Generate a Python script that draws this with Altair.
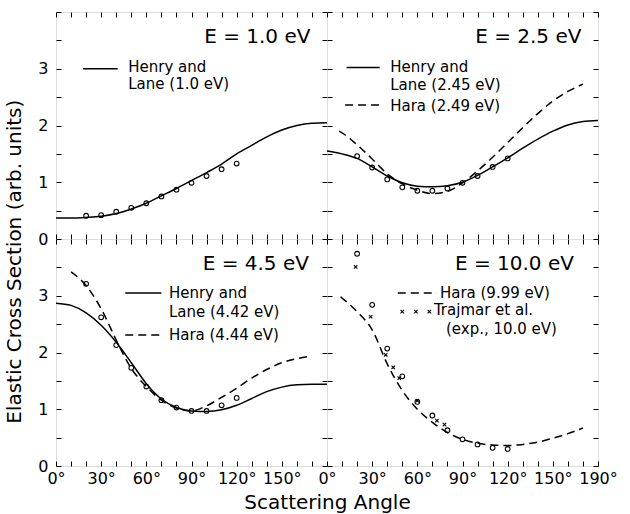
import altair as alt
import pandas as pd

FONT = "DejaVu Sans"

# ---------------- data ----------------
ang_full = [0, 10, 20, 30, 40, 50, 60, 70, 80, 90, 100, 110, 120, 130, 140, 150, 160, 170, 180]
exp_ang = [20, 30, 40, 50, 60, 70, 80, 90, 100, 110, 120]

# E = 1.0 eV
p1_henry = [0.37, 0.37, 0.38, 0.40, 0.45, 0.53, 0.63, 0.76, 0.89, 1.03, 1.17, 1.32, 1.50, 1.65, 1.80, 1.92, 2.00, 2.04, 2.05]
p1_exp = [0.41, 0.42, 0.48, 0.55, 0.63, 0.75, 0.87, 0.99, 1.11, 1.23, 1.33]

# E = 2.5 eV
p2_henry = [1.55, 1.50, 1.42, 1.27, 1.11, 0.99, 0.93, 0.92, 0.94, 1.00, 1.12, 1.27, 1.43, 1.60, 1.76, 1.90, 2.01, 2.07, 2.09]
p2_hara_ang = [8, 10, 20, 30, 40, 50, 60, 70, 80, 90, 100, 110, 120, 130, 140, 150, 160, 170]
p2_hara = [1.90, 1.87, 1.66, 1.41, 1.15, 0.97, 0.86, 0.80, 0.84, 0.99, 1.20, 1.44, 1.70, 1.96, 2.21, 2.43, 2.60, 2.73]
p2_exp = [1.46, 1.26, 1.05, 0.91, 0.85, 0.85, 0.89, 0.99, 1.11, 1.27, 1.42]

# E = 4.5 eV
p3_henry = [2.87, 2.83, 2.70, 2.48, 2.18, 1.82, 1.45, 1.18, 1.03, 0.97, 0.96, 0.99, 1.07, 1.19, 1.31, 1.39, 1.43, 1.44, 1.44]
p3_hara_ang = [10, 20, 30, 40, 50, 60, 70, 80, 90, 100, 110, 120, 130, 140, 150, 160, 170]
p3_hara = [3.42, 3.18, 2.77, 2.22, 1.72, 1.40, 1.16, 1.02, 0.97, 1.06, 1.21, 1.37, 1.55, 1.70, 1.82, 1.89, 1.94]
p3_exp = [3.21, 2.62, 2.13, 1.73, 1.40, 1.16, 1.03, 0.97, 0.97, 1.07, 1.20]

# E = 10.0 eV
p4_hara_ang = [9, 20, 30, 40, 50, 60, 70, 80, 90, 100, 110, 120, 130, 140, 150, 160, 170]
p4_hara = [2.98, 2.72, 2.40, 1.80, 1.33, 1.00, 0.77, 0.59, 0.47, 0.40, 0.37, 0.36, 0.38, 0.42, 0.49, 0.57, 0.67]
p4_exp = [3.74, 2.84, 2.07, 1.58, 1.13, 0.89, 0.63, 0.47, 0.38, 0.32, 0.30]
p4_traj_ang = [19, 29, 39, 44, 48, 60, 73, 78]
p4_traj = [3.51, 2.63, 1.96, 1.74, 1.55, 1.15, 0.80, 0.73]

# annotation texts
titles = ["E = 1.0 eV", "E = 2.5 eV", "E = 4.5 eV", "E = 10.0 eV"]
title_x = [169, 169, 168, 164]
title_y = [3.45, 3.46, 3.45, 3.46]

# legend entries per panel: (text, x, y)
leg_text = {
    1: (["Henry and", "Lane (1.0 eV)"], [48, 48], [2.95, 2.65]),
    2: (["Henry and", "Lane (2.45 eV)", "Hara (2.49 eV)"], [42, 42, 42], [2.95, 2.63, 2.25]),
    3: (["Henry and", "Lane (4.42 eV)", "Hara (4.44 eV)"], [75, 75, 75], [2.96, 2.63, 2.22]),
    4: (["Hara (9.99 eV)", "Trajmar et al.", "(exp., 10.0 eV)"], [75, 71, 79], [2.96, 2.66, 2.33]),
}
# legend sample lines: (x1, x2, y, dashed)
leg_lines = {
    1: [(18, 41, 3.00, False)],
    2: [(13, 35, 3.02, False), (12, 35, 2.36, True)],
    3: [(46, 70, 3.05, False), (46, 70, 2.31, True)],
    4: [(47, 73, 3.05, True)],
}
leg_cross_x = [50, 59, 68]
leg_cross_y = [2.72, 2.72, 2.72]

# ---------------- helpers ----------------
W, H = 271, 227
XD = [0, 180]
YD = [0, 4]
xticks = list(range(0, 181, 10))
yticks = [0, 0.5, 1, 1.5, 2, 2.5, 3, 3.5, 4]

LEFT_EXPR = "datum.value % 30 == 0 && datum.value < 180 ? datum.value + '°' : ''"
RIGHT_EXPR = "datum.value == 180 ? '190°' : (datum.value % 30 == 0 ? datum.value + '°' : '')"
YEXPR = "datum.value % 1 == 0 && datum.value < 4 ? '' + datum.value : ''"

XSHAPE = "M-1,-1L1,1M-1,1L1,-1"


def xaxis_bottom(labels, expr):
    kw = dict(orient="bottom", values=xticks, tickSize=5, offset=-5, domain=False,
              grid=False, title=None, tickColor="black", tickWidth=1,
              labelFlush=False, labelOverlap=False)
    if labels:
        kw.update(labelExpr=expr, labelFontSize=16, labelFont=FONT, labelColor="black",
                  labelPadding=4)
    else:
        kw.update(labels=False)
    return alt.Axis(**kw)


def xaxis_top():
    return alt.Axis(orient="top", values=xticks, tickSize=5, offset=-5, domain=False,
                    grid=False, title=None, labels=False, tickColor="black", tickWidth=1)


def yaxis_left(labels):
    kw = dict(orient="left", values=yticks, tickSize=5, offset=-5, domain=False,
              grid=False, title=None, tickColor="black", tickWidth=1)
    if labels:
        kw.update(labelExpr=YEXPR, labelFontSize=16, labelFont=FONT, labelColor="black",
                  labelPadding=8)
    else:
        kw.update(labels=False)
    return alt.Axis(**kw)


def yaxis_right():
    return alt.Axis(orient="right", values=yticks, tickSize=5, offset=-5, domain=False,
                    grid=False, title=None, labels=False, tickColor="black", tickWidth=1)


def X(axis=None):
    if axis is None:
        return alt.X("a:Q", scale=alt.Scale(domain=XD), axis=None)
    return alt.X("a:Q", scale=alt.Scale(domain=XD), axis=axis)


def Y(axis=None):
    if axis is None:
        return alt.Y("v:Q", scale=alt.Scale(domain=YD), axis=None)
    return alt.Y("v:Q", scale=alt.Scale(domain=YD), axis=axis)


def panel(idx, lines, exp_vals, traj=None, xlabels=False, xexpr=LEFT_EXPR, ylabels=False):
    layers = []
    first = True
    for angs, vals, dashed in lines:
        df = pd.DataFrame({"a": angs, "v": vals})
        mk = dict(color="black", strokeWidth=1.5, interpolate="monotone", clip=True)
        if dashed:
            mk["strokeDash"] = [8, 5]
        if first:
            enc = dict(x=X(xaxis_bottom(xlabels, xexpr)), y=Y(yaxis_left(ylabels)))
            first = False
        else:
            enc = dict(x=X(), y=Y())
        layers.append(alt.Chart(df).mark_line(**mk).encode(**enc))
    # experimental circles (carry top/right axes)
    dfe = pd.DataFrame({"a": exp_ang, "v": exp_vals})
    layers.append(alt.Chart(dfe).mark_point(shape="circle", filled=False, color="black",
                                            size=22, strokeWidth=1.1, opacity=1)
                  .encode(x=X(xaxis_top()), y=Y(yaxis_right())))
    # crosses
    if traj is not None:
        dft = pd.DataFrame({"a": traj[0] + leg_cross_x, "v": traj[1] + leg_cross_y})
        layers.append(alt.Chart(dft).mark_point(shape=XSHAPE, filled=False, color="black",
                                                size=12, strokeWidth=1.1, opacity=1)
                      .encode(x=X(), y=Y()))
    # legend sample lines
    for x1, x2, yv, dashed in leg_lines[idx]:
        dfl = pd.DataFrame({"a": [x1], "a2": [x2], "v": [yv]})
        mk = dict(color="black", strokeWidth=1.5)
        if dashed:
            mk["strokeDash"] = [8, 5]
        layers.append(alt.Chart(dfl).mark_rule(**mk).encode(x=X(), x2="a2:Q", y=Y()))
    # panel title
    dft = pd.DataFrame({"a": [title_x[idx - 1]], "v": [title_y[idx - 1]], "t": [titles[idx - 1]]})
    layers.append(alt.Chart(dft).mark_text(align="right", baseline="alphabetic", font=FONT,
                                           fontSize=20, color="black")
                  .encode(x=X(), y=Y(), text="t:N"))
    # legend texts
    tt, tx, ty = leg_text[idx]
    dfx = pd.DataFrame({"a": tx, "v": ty, "t": tt})
    layers.append(alt.Chart(dfx).mark_text(align="left", baseline="alphabetic", font=FONT,
                                           fontSize=15, color="black")
                  .encode(x=X(), y=Y(), text="t:N"))
    return alt.layer(*layers).properties(width=W, height=H)


p1 = panel(1, [(ang_full, p1_henry, False)], p1_exp, ylabels=True)
p2 = panel(2, [(ang_full, p2_henry, False), (p2_hara_ang, p2_hara, True)], p2_exp)
p3 = panel(3, [(ang_full, p3_henry, False), (p3_hara_ang, p3_hara, True)], p3_exp,
           xlabels=True, xexpr=LEFT_EXPR, ylabels=True)
p4 = panel(4, [(p4_hara_ang, p4_hara, True)], p4_exp, traj=(p4_traj_ang, p4_traj),
           xlabels=True, xexpr=RIGHT_EXPR)

grid = alt.concat(p1, p2, p3, p4, columns=2, spacing=0, bounds="flush").properties(
    title=alt.TitleParams("Scattering Angle", orient="bottom", anchor="middle",
                          font=FONT, fontSize=20, fontWeight="normal",
                          color="black", offset=6))

chart = alt.hconcat(grid, spacing=0).properties(
    title=alt.TitleParams("Elastic Cross Section (arb. units)", orient="left", anchor="middle",
                          font=FONT, fontSize=20, fontWeight="normal", color="black", offset=12),
    padding={"left": 5, "top": 11, "right": 5, "bottom": 2},
).configure_view(stroke="black", strokeWidth=1.4).configure(background="white")

chart.save("out.html", embed_options={"renderer": "svg", "actions": False})
